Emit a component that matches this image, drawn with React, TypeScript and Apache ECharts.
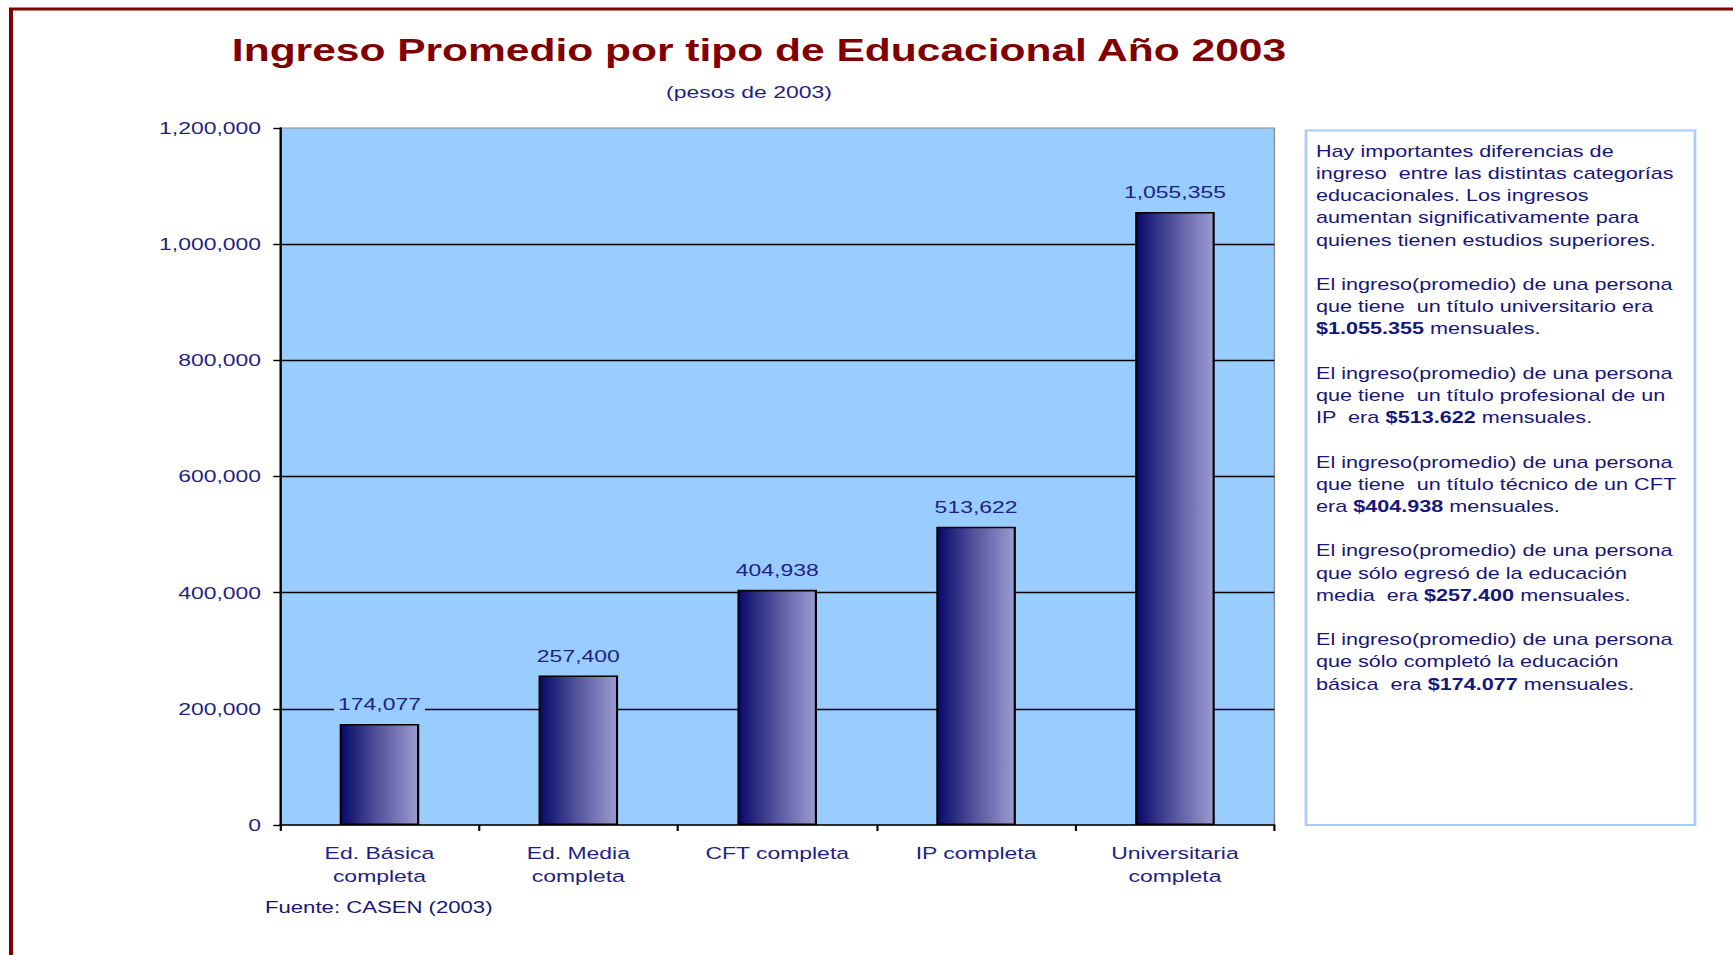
import React, { useEffect, useRef } from "react";
import * as echarts from "echarts";

// ---- data ----
const categories = [
  "Ed. Básica\ncompleta",
  "Ed. Media\ncompleta",
  "CFT completa",
  "IP completa",
  "Universitaria\ncompleta",
];
const incomes = [174077, 257400, 404938, 513622, 1055355];
const yMin = 0;
const yMax = 1200000;
const yStep = 200000;

const titleText = "Ingreso Promedio por tipo de Educacional Año 2003";
const subtitleText = "(pesos de 2003)";
const sourceText = "Fuente: CASEN (2003)";

// note box: each line is a list of [style, text] segments
const noteLines: [string, string][][] = [
  [["n", "Hay importantes diferencias de"]],
  [["n", "ingreso  entre las distintas categorías"]],
  [["n", "educacionales. Los ingresos"]],
  [["n", "aumentan significativamente para"]],
  [["n", "quienes tienen estudios superiores."]],
  [],
  [["n", "El ingreso(promedio) de una persona"]],
  [["n", "que tiene  un título universitario era"]],
  [["b", "$1.055.355"], ["n", " mensuales."]],
  [],
  [["n", "El ingreso(promedio) de una persona"]],
  [["n", "que tiene  un título profesional de un"]],
  [["n", "IP  era "], ["b", "$513.622"], ["n", " mensuales."]],
  [],
  [["n", "El ingreso(promedio) de una persona"]],
  [["n", "que tiene  un título técnico de un CFT"]],
  [["n", "era "], ["b", "$404.938"], ["n", " mensuales."]],
  [],
  [["n", "El ingreso(promedio) de una persona"]],
  [["n", "que sólo egresó de la educación"]],
  [["n", "media  era "], ["b", "$257.400"], ["n", " mensuales."]],
  [],
  [["n", "El ingreso(promedio) de una persona"]],
  [["n", "que sólo completó la educación"]],
  [["n", "básica  era "], ["b", "$174.077"], ["n", " mensuales."]],
];

// ---- layout ----
const PAGE_W = 1733;
const PAGE_H = 955;
const SX = 1.35; // the reference is horizontally stretched
const W = PAGE_W / SX;
const FONT = '"Liberation Sans", Arial, Helvetica, sans-serif';
const NAVY = "#1f1f85";
const TEXT_NAVY = "#16167a";
const DARK_RED = "#800000";
const PLOT_BG = "#99CCFF";

const fmt = (v: number) => Math.round(v).toLocaleString("en-US");

export default function App() {
  const ref = useRef<HTMLDivElement>(null);

  useEffect(() => {
    if (!ref.current) return;
    const chart = echarts.init(ref.current, null, { renderer: "svg" });

    const noteText = noteLines
      .map((segs) =>
        segs.length === 0
          ? "{n| }"
          : segs.map(([s, t]) => `{${s}|${t}}`).join("")
      )
      .join("\n");

    const gridLeft = 280 / SX;
    const gridRight = W - 1274 / SX;

    const option: any = {
      animation: false,
      backgroundColor: "#ffffff",
      grid: {
        left: gridLeft,
        right: gridRight,
        top: 128,
        bottom: PAGE_H - 825,
        show: true,
        backgroundColor: PLOT_BG,
        borderColor: "#8a8a8a",
        borderWidth: 1,
        containLabel: false,
      },
      xAxis: {
        type: "category",
        data: categories,
        boundaryGap: true,
        axisLine: { show: true, lineStyle: { color: "#000", width: 1.6 } },
        axisTick: {
          show: true,
          length: 6,
          alignWithLabel: false,
          lineStyle: { color: "#000", width: 1.6 },
        },
        axisLabel: {
          interval: 0,
          color: NAVY,
          fontFamily: FONT,
          fontSize: 17,
          lineHeight: 23,
          margin: 17,
        },
        splitLine: { show: false },
      },
      yAxis: {
        type: "value",
        min: yMin,
        max: yMax,
        interval: yStep,
        axisLine: { show: true, lineStyle: { color: "#000", width: 1.6 } },
        axisTick: {
          show: true,
          length: 5,
          lineStyle: { color: "#000", width: 1.4 },
        },
        axisLabel: {
          color: NAVY,
          fontFamily: FONT,
          fontSize: 17,
          margin: 14,
          formatter: (v: number) => fmt(v),
        },
        splitLine: {
          show: true,
          showMinLine: false,
          showMaxLine: false,
          lineStyle: { color: "#000", width: 1.4 },
        },
      },
      series: [
        {
          type: "bar",
          data: incomes,
          barWidth: "40%",
          itemStyle: {
            color: new echarts.graphic.LinearGradient(0, 0, 1, 0, [
              { offset: 0, color: "#08086a" },
              { offset: 0.5, color: "#5656a0" },
              { offset: 1, color: "#9c9cd1" },
            ]),
            borderColor: "#000",
            borderWidth: 1.6,
          },
          label: {
            show: true,
            position: "top",
            distance: 11,
            color: NAVY,
            fontFamily: FONT,
            fontSize: 17,
            backgroundColor: PLOT_BG,
            padding: [0, 3],
            formatter: (p: any) => fmt(p.value),
          },
        },
      ],
      graphic: [
        {
          type: "rect",
          silent: true,
          z: -10,
          shape: { x: 11 / SX, y: 9, width: W + 50, height: PAGE_H + 50 },
          style: { fill: "none", stroke: DARK_RED, lineWidth: 3 },
        },
        {
          type: "text",
          x: 759 / SX,
          y: 50,
          style: {
            text: titleText,
            fill: DARK_RED,
            font: `bold 31.5px ${FONT}`,
            textAlign: "center",
            textVerticalAlign: "middle",
          },
        },
        {
          type: "text",
          x: 749 / SX,
          y: 92,
          style: {
            text: subtitleText,
            fill: NAVY,
            font: `17px ${FONT}`,
            textAlign: "center",
            textVerticalAlign: "middle",
          },
        },
        {
          type: "text",
          x: 265 / SX,
          y: 907,
          style: {
            text: sourceText,
            fill: TEXT_NAVY,
            font: `16.4px ${FONT}`,
            textAlign: "left",
            textVerticalAlign: "middle",
          },
        },
        {
          type: "rect",
          silent: true,
          shape: {
            x: 1306 / SX,
            y: 130.5,
            width: (1695 - 1306) / SX,
            height: 825 - 130.5,
          },
          style: { fill: "#ffffff", stroke: "#a6cdf5", lineWidth: 2 },
        },
        {
          type: "text",
          x: 1316 / SX,
          y: 140.3,
          style: {
            text: noteText,
            textAlign: "left",
            textVerticalAlign: "top",
            rich: {
              n: {
                fill: TEXT_NAVY,
                fontFamily: FONT,
                fontSize: 16,
                lineHeight: 22.2,
              },
              b: {
                fill: TEXT_NAVY,
                fontFamily: FONT,
                fontSize: 16,
                fontWeight: "bold",
                lineHeight: 22.2,
              },
            },
          },
        },
      ],
    };

    chart.setOption(option);
    return () => chart.dispose();
  }, []);

  return (
    <div
      ref={ref}
      style={{
        position: "absolute",
        left: 0,
        top: 0,
        width: `${W}px`,
        height: `${PAGE_H}px`,
        transform: `scaleX(${SX})`,
        transformOrigin: "0 0",
      }}
    />
  );
}
